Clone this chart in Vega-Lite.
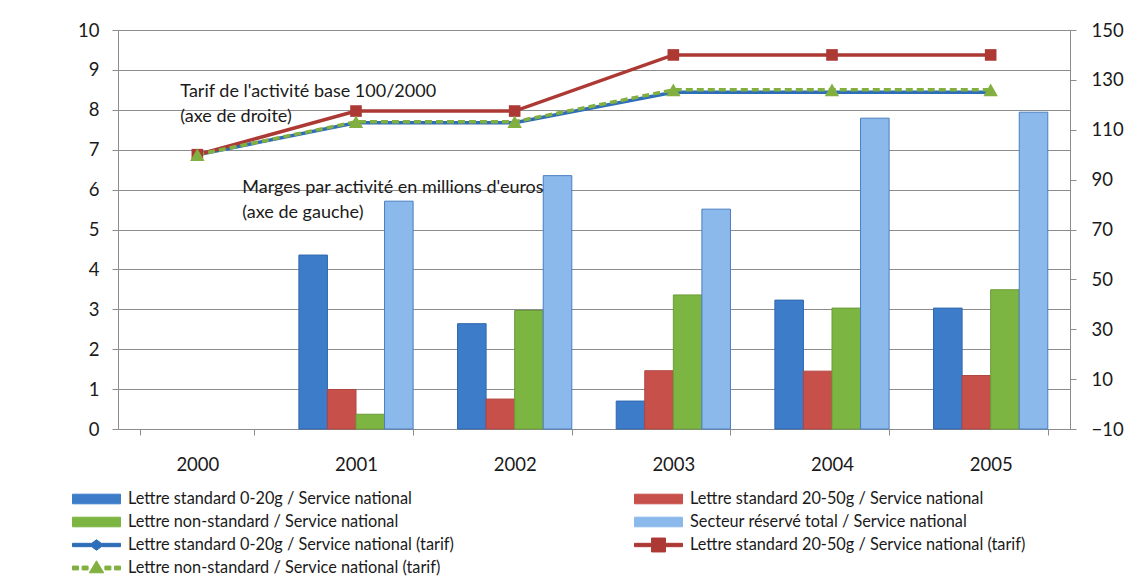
{
  "$schema": "https://vega.github.io/schema/vega-lite/v6.json",
  "width": 952,
  "height": 399,
  "autosize": {"type": "none"},
  "padding": {"left": 118, "top": 30, "right": 74, "bottom": 147},
  "background": "white",
  "config": {
    "view": {"stroke": null},
    "font": "Lato",
    "axis": {
      "labelFont": "Lato",
      "labelFontSize": 18.5,
      "labelColor": "#1a1a1a",
      "domainColor": "#8c8c8c",
      "tickColor": "#8c8c8c",
      "gridColor": "#8c8c8c",
      "labelOverlap": false,
      "title": null
    }
  },
  "datasets": {
    "marges": [
      {"year": "2001", "series": "Lettre standard 0-20g / Service national", "value": 4.36},
      {"year": "2001", "series": "Lettre standard 20-50g / Service national", "value": 0.99},
      {"year": "2001", "series": "Lettre non-standard / Service national", "value": 0.37},
      {"year": "2001", "series": "Secteur réservé total / Service national", "value": 5.71},
      {"year": "2002", "series": "Lettre standard 0-20g / Service national", "value": 2.64},
      {"year": "2002", "series": "Lettre standard 20-50g / Service national", "value": 0.75},
      {"year": "2002", "series": "Lettre non-standard / Service national", "value": 2.97},
      {"year": "2002", "series": "Secteur réservé total / Service national", "value": 6.35},
      {"year": "2003", "series": "Lettre standard 0-20g / Service national", "value": 0.70},
      {"year": "2003", "series": "Lettre standard 20-50g / Service national", "value": 1.46},
      {"year": "2003", "series": "Lettre non-standard / Service national", "value": 3.36},
      {"year": "2003", "series": "Secteur réservé total / Service national", "value": 5.51},
      {"year": "2004", "series": "Lettre standard 0-20g / Service national", "value": 3.23},
      {"year": "2004", "series": "Lettre standard 20-50g / Service national", "value": 1.45},
      {"year": "2004", "series": "Lettre non-standard / Service national", "value": 3.03},
      {"year": "2004", "series": "Secteur réservé total / Service national", "value": 7.79},
      {"year": "2005", "series": "Lettre standard 0-20g / Service national", "value": 3.03},
      {"year": "2005", "series": "Lettre standard 20-50g / Service national", "value": 1.34},
      {"year": "2005", "series": "Lettre non-standard / Service national", "value": 3.49},
      {"year": "2005", "series": "Secteur réservé total / Service national", "value": 7.94}
    ],
    "tarifs": [
      {"year": "2000", "series": "Lettre standard 0-20g / Service national (tarif)", "tarif": 100},
      {"year": "2000", "series": "Lettre standard 20-50g / Service national (tarif)", "tarif": 100},
      {"year": "2000", "series": "Lettre non-standard / Service national (tarif)", "tarif": 100},
      {"year": "2001", "series": "Lettre standard 0-20g / Service national (tarif)", "tarif": 112.8},
      {"year": "2001", "series": "Lettre standard 20-50g / Service national (tarif)", "tarif": 117.5},
      {"year": "2001", "series": "Lettre non-standard / Service national (tarif)", "tarif": 113.2},
      {"year": "2002", "series": "Lettre standard 0-20g / Service national (tarif)", "tarif": 112.8},
      {"year": "2002", "series": "Lettre standard 20-50g / Service national (tarif)", "tarif": 117.5},
      {"year": "2002", "series": "Lettre non-standard / Service national (tarif)", "tarif": 113.2},
      {"year": "2003", "series": "Lettre standard 0-20g / Service national (tarif)", "tarif": 125},
      {"year": "2003", "series": "Lettre standard 20-50g / Service national (tarif)", "tarif": 140},
      {"year": "2003", "series": "Lettre non-standard / Service national (tarif)", "tarif": 126},
      {"year": "2004", "series": "Lettre standard 0-20g / Service national (tarif)", "tarif": 125},
      {"year": "2004", "series": "Lettre standard 20-50g / Service national (tarif)", "tarif": 140},
      {"year": "2004", "series": "Lettre non-standard / Service national (tarif)", "tarif": 126},
      {"year": "2005", "series": "Lettre standard 0-20g / Service national (tarif)", "tarif": 125},
      {"year": "2005", "series": "Lettre standard 20-50g / Service national (tarif)", "tarif": 140},
      {"year": "2005", "series": "Lettre non-standard / Service national (tarif)", "tarif": 126}
    ],
    "notes": [
      {"group": "tarif", "year": "2000", "y": 8.45, "text": "Tarif de l'activité base 100/2000"},
      {"group": "tarif", "year": "2000", "y": 7.82, "text": "(axe de droite)"},
      {"group": "marges", "year": "2000", "y": 6.04, "text": "Marges par activité en millions d'euros"},
      {"group": "marges", "year": "2000", "y": 5.41, "text": "(axe de gauche)"}
    ]
  },
  "layer": [
    {
      "layer": [
        {
          "data": {"name": "marges"},
          "mark": {"type": "bar", "strokeWidth": 1},
          "encoding": {
            "x": {
              "field": "year", "type": "nominal",
              "scale": {"domain": ["2000", "2001", "2002", "2003", "2004", "2005"], "paddingInner": 0.28, "paddingOuter": 0.14},
              "axis": {"labelAngle": 0, "tickBand": "extent", "tickSize": 6, "labelPadding": 20, "grid": false}
            },
            "xOffset": {
              "field": "series", "type": "nominal",
              "scale": {"domain": ["Lettre standard 0-20g / Service national", "Lettre standard 20-50g / Service national", "Lettre non-standard / Service national", "Secteur réservé total / Service national"], "paddingInner": 0, "paddingOuter": 0}
            },
            "y": {
              "field": "value", "type": "quantitative",
              "scale": {"domain": [0, 10], "nice": false},
              "axis": {"orient": "left", "values": [0, 1, 2, 3, 4, 5, 6, 7, 8, 9, 10], "grid": true, "tickSize": 6, "labelPadding": 13}
            },
            "color": {
              "field": "series", "type": "nominal",
              "scale": {
                "domain": ["Lettre standard 0-20g / Service national", "Lettre standard 20-50g / Service national", "Lettre non-standard / Service national", "Secteur réservé total / Service national", "Lettre standard 0-20g / Service national (tarif)", "Lettre standard 20-50g / Service national (tarif)", "Lettre non-standard / Service national (tarif)"],
                "range": ["#3D7CC9", "#C8504B", "#7DB543", "#8BB9EC", "#2E6DB8", "#AD3934", "#82B040"]
              },
              "legend": {
                "title": null,
                "orient": "none",
                "direction": "horizontal",
                "legendX": -46,
                "legendY": 459,
                "columns": 2,
                "columnPadding": 180,
                "rowPadding": 3,
                "clipHeight": 20,
                "symbolSize": 2304,
                "labelFontSize": 16.3,
                "labelFont": "Lato",
                "labelColor": "#1a1a1a",
                "labelLimit": 600,
                "labelOffset": 7,
                "padding": 0,
                "encode": {
                  "symbols": {
                    "update": {
                      "shape": {"signal": "indexof(datum.value, '(tarif)') < 0 ? 'M-1,-0.2H1V0.2H-1Z' : (indexof(datum.value, '0-20g') >= 0 ? 'M-1,-0.07H-0.2L0,-0.22L0.2,-0.07H1V0.07H0.2L0,0.22L-0.2,0.07H-1Z' : (indexof(datum.value, '20-50g') >= 0 ? 'M-1,-0.07H-0.29V-0.29H0.29V-0.07H1V0.07H0.29V0.29H-0.29V0.07H-1Z' : 'M-1,-0.08H-0.75V0.08H-1Z M-0.6,-0.08H-0.35V0.08H-0.6Z M-0.3,0.2L0,-0.3L0.3,0.2Z M0.35,-0.08H0.6V0.08H0.35Z M0.75,-0.08H1V0.08H0.75Z'))"},
                      "fill": {"scale": "color", "field": "value"},
                      "stroke": {"signal": "datum.value === 'Secteur réservé total / Service national' ? '#4A7EC0' : 'transparent'"},
                      "strokeWidth": {"value": 1},
                      "opacity": {"value": 1},
                      "fillOpacity": {"value": 1}
                    }
                  }
                }
              }
            },
            "stroke": {
              "field": "series", "type": "nominal",
              "scale": {"domain": ["Lettre standard 0-20g / Service national", "Lettre standard 20-50g / Service national", "Lettre non-standard / Service national", "Secteur réservé total / Service national"], "range": ["#2F69B0", "#B04440", "#6A9C38", "#4A7EC0"]},
              "legend": null
            }
          }
        },
        {
          "data": {"name": "notes"},
          "transform": [{"filter": "datum.group === 'tarif'"}],
          "mark": {"type": "text", "align": "left", "baseline": "middle", "dx": -17, "fontSize": 18, "font": "Lato", "color": "#1a1a1a"},
          "encoding": {
            "x": {"field": "year", "type": "nominal"},
            "y": {"field": "y", "type": "quantitative", "axis": {"orient": "left", "values": [0, 1, 2, 3, 4, 5, 6, 7, 8, 9, 10], "grid": true, "tickSize": 6, "labelPadding": 13}},
            "text": {"field": "text", "type": "nominal"}
          }
        },
        {
          "data": {"name": "notes"},
          "transform": [{"filter": "datum.group === 'marges'"}],
          "mark": {"type": "text", "align": "left", "baseline": "middle", "dx": 45, "fontSize": 18, "font": "Lato", "color": "#1a1a1a"},
          "encoding": {
            "x": {"field": "year", "type": "nominal"},
            "y": {"field": "y", "type": "quantitative", "axis": {"orient": "left", "values": [0, 1, 2, 3, 4, 5, 6, 7, 8, 9, 10], "grid": true, "tickSize": 6, "labelPadding": 13}},
            "text": {"field": "text", "type": "nominal"}
          }
        }
      ]
    },
    {
      "layer": [
        {
          "data": {"name": "tarifs"},
          "transform": [{"filter": "datum.series === 'Lettre standard 0-20g / Service national (tarif)'"}],
          "mark": {"type": "line", "strokeWidth": 3.5},
          "encoding": {
            "x": {"field": "year", "type": "nominal"},
            "y": {
              "field": "tarif", "type": "quantitative",
              "scale": {"domain": [-10, 150], "nice": false},
              "axis": {"orient": "right", "values": [-10, 10, 30, 50, 70, 90, 110, 130, 150], "grid": false, "tickSize": 6, "labelPadding": 15}
            },
            "color": {"field": "series", "type": "nominal"}
          }
        },
        {
          "data": {"name": "tarifs"},
          "transform": [{"filter": "datum.series === 'Lettre standard 20-50g / Service national (tarif)'"}],
          "mark": {"type": "line", "strokeWidth": 3.5},
          "encoding": {
            "x": {"field": "year", "type": "nominal"},
            "y": {"field": "tarif", "type": "quantitative"},
            "color": {"field": "series", "type": "nominal"}
          }
        },
        {
          "data": {"name": "tarifs"},
          "transform": [{"filter": "datum.series === 'Lettre non-standard / Service national (tarif)'"}],
          "mark": {"type": "line", "strokeWidth": 3.5, "strokeDash": [7, 4]},
          "encoding": {
            "x": {"field": "year", "type": "nominal"},
            "y": {"field": "tarif", "type": "quantitative"},
            "color": {"field": "series", "type": "nominal"}
          }
        },
        {
          "data": {"name": "tarifs"},
          "mark": {"type": "point", "filled": true, "opacity": 1},
          "encoding": {
            "x": {"field": "year", "type": "nominal"},
            "y": {"field": "tarif", "type": "quantitative"},
            "color": {"field": "series", "type": "nominal"},
            "shape": {
              "field": "series", "type": "nominal",
              "scale": {"domain": ["Lettre standard 0-20g / Service national (tarif)", "Lettre standard 20-50g / Service national (tarif)", "Lettre non-standard / Service national (tarif)"], "range": ["diamond", "square", "triangle-up"]},
              "legend": null
            },
            "size": {
              "field": "series", "type": "nominal",
              "scale": {"domain": ["Lettre standard 0-20g / Service national (tarif)", "Lettre standard 20-50g / Service national (tarif)", "Lettre non-standard / Service national (tarif)"], "range": [60, 210, 190]},
              "legend": null
            }
          }
        }
      ]
    }
  ],
  "resolve": {"scale": {"y": "independent"}}
}
